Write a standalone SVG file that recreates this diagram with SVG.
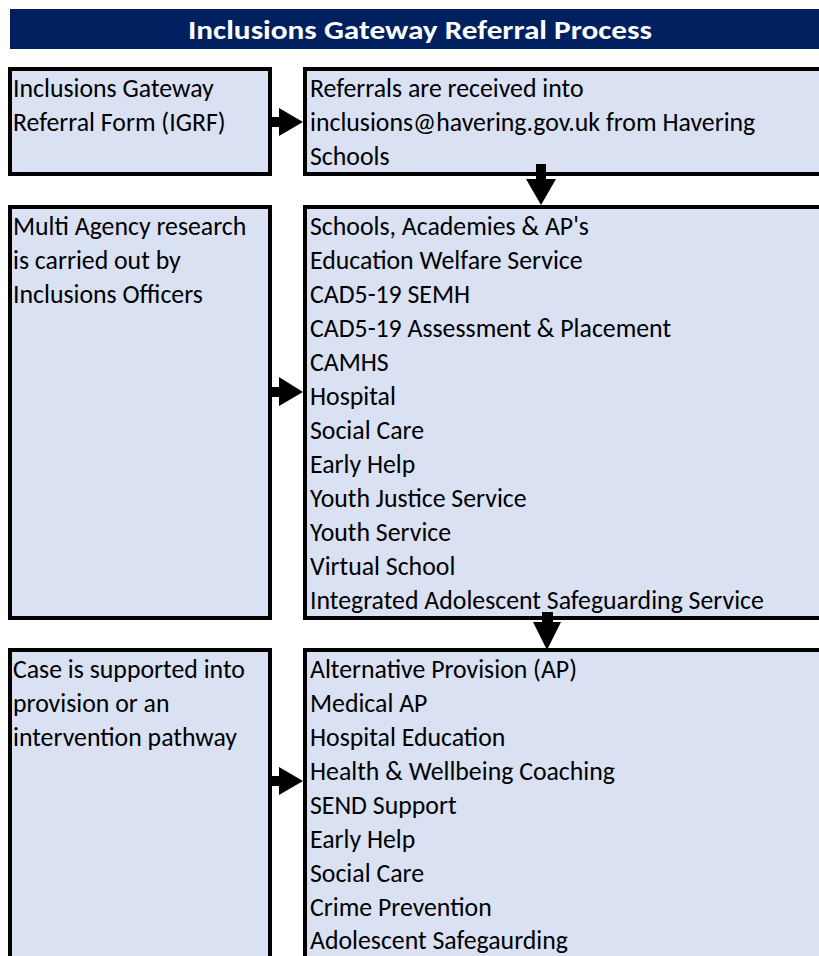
<svg xmlns="http://www.w3.org/2000/svg" width="819" height="956" viewBox="0 0 819 956">
<style>
.box{fill:#D9E1F2;stroke:#000;stroke-width:4}
.t{font-family:Carlito,Lato,"Liberation Sans",sans-serif;font-size:25.8px;fill:#000}
.title{font-family:Carlito,Lato,"Liberation Sans",sans-serif;font-size:27px;font-weight:bold;fill:#fff}
.arr{fill:#000}
</style>
<rect width="819" height="956" fill="#fff"/>
<g id="title">
<rect x="10" y="9" width="820" height="40" fill="#002060"/>
<text class="title" x="188" y="39" textLength="464" lengthAdjust="spacingAndGlyphs">Inclusions Gateway Referral Process</text>
</g>
<g id="igrf">
<rect class="box" x="10" y="69" width="260" height="105"/>
<text class="t" x="13" y="97">Inclusions Gateway</text>
<text class="t" x="13" y="131">Referral Form (IGRF)</text>
</g>
<g id="received">
<rect class="box" x="305" y="69" width="530" height="105"/>
<text class="t" x="310" y="97">Referrals are received into</text>
<text class="t" x="310" y="131">inclusions@havering.gov.uk from Havering</text>
<text class="t" x="310" y="165">Schools</text>
</g>
<g id="research">
<rect class="box" x="10" y="207" width="260" height="411"/>
<text class="t" x="13" y="235">Multi Agency research</text>
<text class="t" x="13" y="269">is carried out by</text>
<text class="t" x="13" y="303">Inclusions Officers</text>
</g>
<g id="agencies">
<rect class="box" x="305" y="207" width="530" height="411"/>
<text class="t" x="310" y="235">Schools, Academies &amp; AP's</text>
<text class="t" x="310" y="269">Education Welfare Service</text>
<text class="t" x="310" y="303">CAD5-19 SEMH</text>
<text class="t" x="310" y="337">CAD5-19 Assessment &amp; Placement</text>
<text class="t" x="310" y="371">CAMHS</text>
<text class="t" x="310" y="405">Hospital</text>
<text class="t" x="310" y="439">Social Care</text>
<text class="t" x="310" y="473">Early Help</text>
<text class="t" x="310" y="507">Youth Justice Service</text>
<text class="t" x="310" y="541">Youth Service</text>
<text class="t" x="310" y="575">Virtual School</text>
<text class="t" x="310" y="609">Integrated Adolescent Safeguarding Service</text>
</g>
<g id="supported">
<rect class="box" x="10" y="650" width="260" height="330"/>
<text class="t" x="13" y="678">Case is supported into</text>
<text class="t" x="13" y="712">provision or an</text>
<text class="t" x="13" y="746">intervention pathway</text>
</g>
<g id="provision">
<rect class="box" x="305" y="650" width="530" height="330"/>
<text class="t" x="310" y="678">Alternative Provision (AP)</text>
<text class="t" x="310" y="712">Medical AP</text>
<text class="t" x="310" y="746">Hospital Education</text>
<text class="t" x="310" y="780">Health &amp; Wellbeing Coaching</text>
<text class="t" x="310" y="814">SEND Support</text>
<text class="t" x="310" y="848">Early Help</text>
<text class="t" x="310" y="882">Social Care</text>
<text class="t" x="310" y="916">Crime Prevention</text>
<text class="t" x="310" y="949">Adolescent Safegaurding</text>
</g>
<g id="connectors">
<path class="arr" d="M272,117 H279 V108 L303,122 L279,136 V127 H272 Z"/>
<path class="arr" d="M536,164 H546 V179 H556 L541,205 L526,179 H536 Z"/>
<path class="arr" d="M272,387 H279 V377 L303,392 L279,406 V397 H272 Z"/>
<path class="arr" d="M542,612 H553 V622 H561 L547,650 L533,622 H542 Z"/>
<path class="arr" d="M272,776 H279 V767 L303,781 L279,795 V786 H272 Z"/>
</g>
</svg>
